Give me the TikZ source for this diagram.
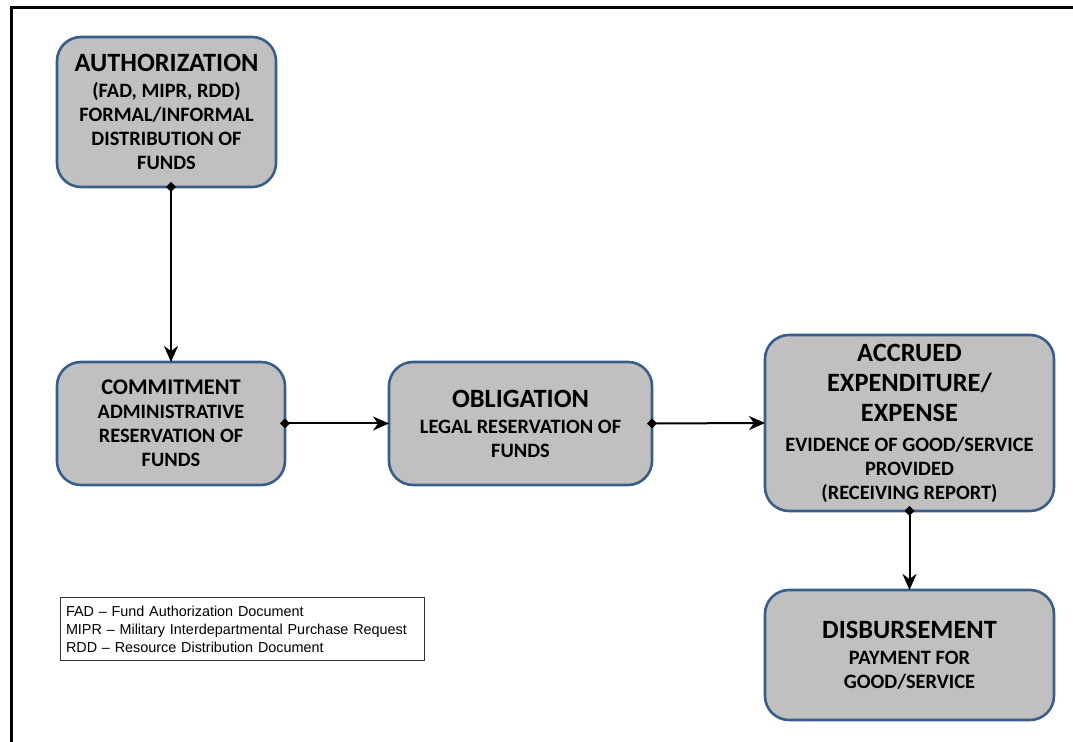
\documentclass[tikz,border=0pt]{standalone}
\usepackage{fontspec}
\setmainfont{Carlito}
\newfontfamily\legendfont{Liberation Sans}
\usetikzlibrary{arrows.meta}

\definecolor{boxblue}{RGB}{56,93,138}
\definecolor{boxgray}{RGB}{192,192,192}

\newcommand{\ttl}{\fontsize{13.2}{15}\selectfont}

\begin{document}
\begin{tikzpicture}[x=0.5pt,y=-0.5pt,font=\bfseries\fontsize{10.2}{12}\selectfont,
    stage/.style={draw=boxblue,fill=boxgray,line width=1.3pt,rounded corners=12pt,
        align=center,inner sep=2pt,outer sep=0pt},
    flow/.style={line width=1pt,shorten <=-2.5pt,
        {Diamond[length=5pt,width=5pt]}-{Stealth[length=8pt,width=7pt,inset=2.5pt]}}]

    \useasboundingbox (0,0) rectangle (1073,742);

    % frame
    \draw [line width=1.5pt] (11,742) -- (11,8) -- (1073,8);

    % stages
    \node [stage,minimum width=109.5pt,minimum height=75pt] (auth) at (166.5,112)
        {{\ttl AUTHORIZATION}\\[1pt](FAD, MIPR, RDD)\\FORMAL/INFORMAL\\DISTRIBUTION OF\\FUNDS};
    \node [stage,minimum width=114pt,minimum height=61.5pt] (comm) at (171,423.5)
        {{\fontsize{11.2}{13}\selectfont COMMITMENT}\\ADMINISTRATIVE\\RESERVATION OF\\FUNDS};
    \node [stage,minimum width=131.5pt,minimum height=61.5pt] (oblig) at (520.5,423.5)
        {{\ttl OBLIGATION}\\[1pt]LEGAL RESERVATION OF\\FUNDS};
    \node [stage,minimum width=144.5pt,minimum height=88pt] (accr) at (909.5,423)
        {{\ttl ACCRUED}\\[3pt]{\ttl EXPENDITURE/}\\[3pt]{\ttl EXPENSE}\\[3pt]EVIDENCE OF GOOD/SERVICE\\PROVIDED\\(RECEIVING REPORT)};
    \node [stage,minimum width=144.5pt,minimum height=65pt] (disb) at (909.5,655)
        {{\ttl DISBURSEMENT}\\[1pt]PAYMENT FOR\\GOOD/SERVICE};

    % connectors
    \draw [flow,line width=0.8pt] (auth.south -| comm.north) -- (comm.north);
    \draw [flow] (comm.east) -- (oblig.west);
    \draw [flow] (oblig.east) -- (accr.west);
    \draw [flow] (accr.south) -- (disb.north);

    % legend
    \node [draw=black!80,line width=0.5pt,align=left,text width=176pt,inner sep=3pt,
        minimum height=31.5pt,font=\legendfont\fontsize{7.2}{9}\selectfont] (legend) at (242,629.5)
        {FAD – Fund Authorization Document\\MIPR – Military Interdepartmental Purchase Request\\RDD – Resource Distribution Document};

\end{tikzpicture}
\end{document}
